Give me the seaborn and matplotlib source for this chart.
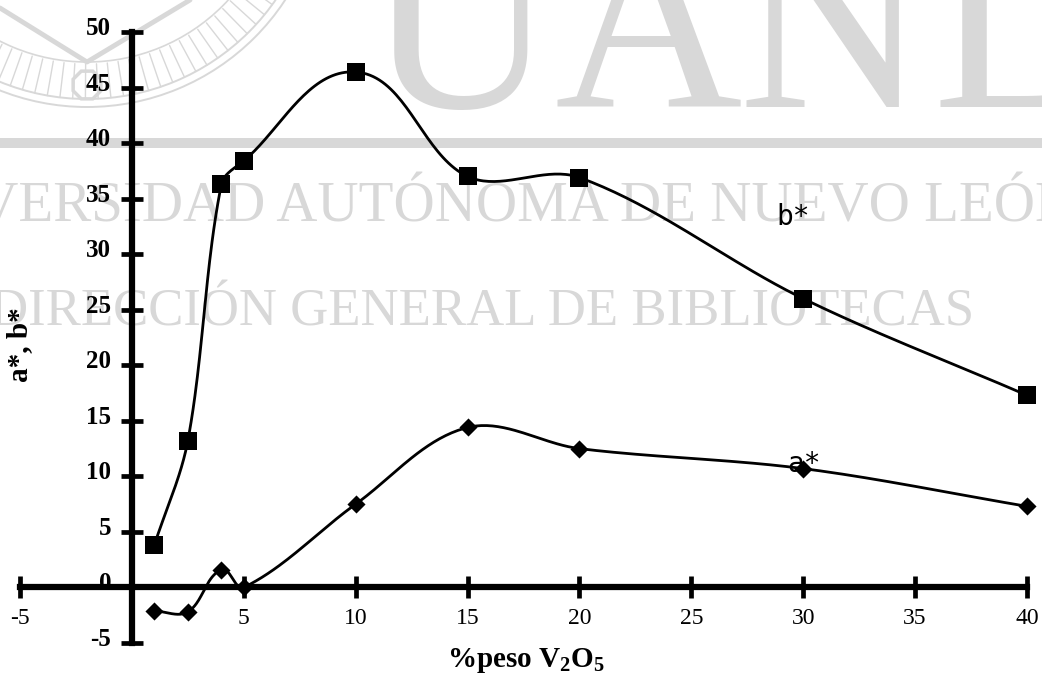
import numpy as np
import matplotlib
matplotlib.use("Agg")
import matplotlib.pyplot as plt
import matplotlib.patches as mpatches
from matplotlib.transforms import ScaledTranslation
import seaborn as sns

# V2O5 content (wt %) and CIELAB colour coordinates of the samples
v2o5_pct = [1, 2.5, 4, 5, 10, 15, 20, 30, 40]
b_star = [3.8, 13.2, 36.3, 38.4, 46.4, 37.0, 36.9, 26.0, 17.3]
a_star = [-2.1, -2.2, 1.6, 0.0, 7.5, 14.4, 12.5, 10.7, 7.3]

x_ticks = [-5, 5, 10, 15, 20, 25, 30, 35, 40]
y_ticks = [-5, 0, 5, 10, 15, 20, 25, 30, 35, 40, 45, 50]


def smooth(ax, xs, ys, n=40, k=1 / 3):
    """Smoothed line through the points: cubic Bezier segments whose
    control points follow the neighbour direction, computed in screen space."""
    pts = ax.transData.transform(np.column_stack([xs, ys]).astype(float))
    ext = np.vstack([pts[0], pts, pts[-1]])
    t = np.linspace(0, 1, n, endpoint=False)[:, None]
    parts = []
    for i in range(1, len(ext) - 2):
        p0, p1, p2, p3 = ext[i - 1], ext[i], ext[i + 1], ext[i + 2]
        seg_len = np.linalg.norm(p2 - p1)
        d1 = (p2 - p0) / np.linalg.norm(p2 - p0)
        d2 = (p3 - p1) / np.linalg.norm(p3 - p1)
        c1 = p1 + d1 * seg_len * k
        c2 = p2 - d2 * seg_len * k
        seg = ((1 - t) ** 3) * p1 + 3 * ((1 - t) ** 2) * t * c1 \
            + 3 * (1 - t) * t ** 2 * c2 + t ** 3 * p2
        parts.append(seg)
    parts.append(ext[-2][None, :])
    out = ax.transData.inverted().transform(np.vstack(parts))
    return out[:, 0], out[:, 1]


sns.set_style("white")
plt.rcParams["font.family"] = ["Liberation Serif", "DejaVu Serif"]
plt.rcParams["mathtext.default"] = "regular"
plt.rcParams["text.color"] = "black"
plt.rcParams["axes.labelcolor"] = "black"

W, H = 1042, 677
fig = plt.figure(figsize=(W / 100, H / 100), dpi=100)
fig.patch.set_facecolor("white")

# ---- library watermark, drawn in pixel units behind the chart ----
bg = fig.add_axes([0, 0, 1, 1], zorder=-1)
bg.set_xlim(0, W)
bg.set_ylim(H, 0)
bg.axis("off")
wm = "#d8d8d8"

cx, cy = 87, -130
for r in (237, 229):
    bg.add_patch(mpatches.Arc((cx, cy), 2 * r, 2 * r, color=wm, lw=1.4))
bg.add_patch(mpatches.Arc((cx, cy), 2 * 192, 2 * 192, color=wm, lw=1.2))
for ang in np.arange(20, 161, 3.2):
    a = np.deg2rad(ang)
    bg.plot([cx + 194 * np.cos(a), cx + 229 * np.cos(a)],
            [cy + 194 * np.sin(a), cy + 229 * np.sin(a)], color=wm, lw=1.0)
bg.plot([0, 87, 190], [8, 62, 0], color=wm, lw=3.5)
bg.add_patch(mpatches.RegularPolygon((87, 85), numVertices=8, radius=15,
                                     orientation=np.pi / 8, fill=False,
                                     ec=wm, lw=2.5))

for ch, xc, ha in [("U", 460, "center"), ("A", 648, "center"),
                   ("N", 832, "center"), ("L", 932, "left")]:
    bg.text(xc, 107, ch, fontsize=187, color=wm, ha=ha, va="baseline",
            family="Liberation Serif")
bg.axhline(143, color=wm, lw=7.2)
bg.text(-124, 222, "UNIVERSIDAD AUTÓNOMA DE NUEVO LEÓN", fontsize=41,
        color=wm, ha="left", va="baseline", family="Liberation Serif")
bg.text(-10, 325, "DIRECCIÓN GENERAL DE BIBLIOTECAS", fontsize=38,
        color=wm, ha="left", va="baseline", family="Liberation Serif")

# ---- chart ----
ax = fig.add_axes([20 / W, 1 - 643 / H, 1007 / W, 611 / H])
ax.set_facecolor("none")
ax.set_xlim(-5, 40)
ax.set_ylim(-5, 50)

for ys in (b_star, a_star):
    sx, sy = smooth(ax, v2o5_pct, ys)
    sns.lineplot(x=sx, y=sy, sort=False, estimator=None, color="black",
                 lw=2.0, ax=ax, zorder=3, clip_on=False)
sns.scatterplot(x=v2o5_pct, y=b_star, marker="s", s=165, color="black",
                edgecolor="black", linewidth=0, ax=ax, zorder=4,
                clip_on=False)
sns.scatterplot(x=v2o5_pct, y=a_star, marker="D", s=85, color="black",
                edgecolor="black", linewidth=0, ax=ax, zorder=4,
                clip_on=False)

ax.text(28.8, 32.6, "b*", fontsize=20, family="DejaVu Sans Mono",
        color="black", ha="left", va="baseline", zorder=2)
ax.text(29.3, 10.4, "a*", fontsize=20, family="DejaVu Sans Mono",
        color="black", ha="left", va="baseline", zorder=2)

ax.set_xlim(-5, 40)
ax.set_ylim(-5, 50)
for s in ("top", "right"):
    ax.spines[s].set_visible(False)
ax.spines["left"].set_position(("data", 0))
ax.spines["bottom"].set_position(("data", 0))
for s in ("left", "bottom"):
    ax.spines[s].set_linewidth(4.5)
    ax.spines[s].set_color("black")
    ax.spines[s].set_zorder(2.5)

ax.set_xticks(x_ticks)
ax.set_xticklabels([str(v) for v in x_ticks], fontsize=17)
ax.set_yticks(y_ticks)
ax.set_yticklabels([str(v) for v in y_ticks], fontsize=18, fontweight="bold")
ax.tick_params(axis="both", direction="inout", length=16, width=3.4,
               color="black", labelcolor="black", bottom=True, left=True)
ax.tick_params(axis="x", pad=7)
ax.tick_params(axis="y", pad=7)
lift = ScaledTranslation(0, 0.06, fig.dpi_scale_trans)
for lbl in ax.get_yticklabels():
    lbl.set_transform(lbl.get_transform() + lift)

ax.set_ylabel("a*, b*", fontsize=21, fontweight="bold")
ax.yaxis.set_label_coords(0.013, 0.488)
ax.set_xlabel("")
fig.text(526 / W, 1 - 667 / H, r"%peso V$_2$O$_5$", ha="center",
         va="baseline", fontsize=21, fontweight="bold")

fig.savefig("out.png", dpi=100, facecolor="white")
